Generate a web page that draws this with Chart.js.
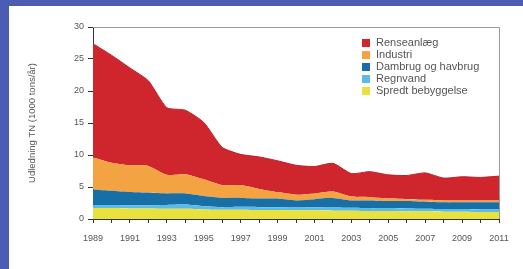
<!DOCTYPE html>
<html>
<head>
<meta charset="utf-8">
<script src="https://cdn.jsdelivr.net/npm/chart.js@4.4.1/dist/chart.umd.min.js"></script>
<style>
  html, body { margin: 0; padding: 0; }
  body { width: 523px; height: 269px; background: #4b5cb2; overflow: hidden; position: relative; }
  #panel { position: absolute; left: 9px; top: 6px; width: 514px; height: 263px; background: #fff; }
  canvas { display: block; }
</style>
</head>
<body>
<div id="panel"><canvas id="chart" width="514" height="263"></canvas></div>
<script>
const years = ['1989', '1990', '1991', '1992', '1993', '1994', '1995', '1996', '1997', '1998', '1999',
  '2000', '2001', '2002', '2003', '2004', '2005', '2006', '2007', '2008', '2009', '2010', '2011'];

// 1000 tons/år, stacked from the bottom up
const spredt = [1.7, 1.7, 1.65, 1.65, 1.6, 1.6, 1.5, 1.45, 1.45, 1.4, 1.4, 1.35, 1.35, 1.3, 1.3, 1.25, 1.25, 1.2, 1.2, 1.15, 1.15, 1.1, 1.1];
const regnvand = [0.5, 0.5, 0.5, 0.5, 0.6, 0.65, 0.5, 0.4, 0.45, 0.45, 0.45, 0.45, 0.5, 0.5, 0.45, 0.45, 0.45, 0.45, 0.4, 0.4, 0.4, 0.4, 0.4];
const dambrug = [2.4, 2.2, 2.05, 1.95, 1.8, 1.75, 1.6, 1.45, 1.4, 1.35, 1.35, 1.1, 1.25, 1.5, 1.15, 1.2, 1.1, 1.15, 1.1, 1.05, 1.05, 1.1, 1.1];
const industri = [5.0, 4.4, 4.2, 4.2, 2.9, 3.0, 2.6, 2.0, 2.0, 1.5, 1.0, 0.9, 0.9, 1.0, 0.6, 0.5, 0.4, 0.3, 0.3, 0.3, 0.3, 0.3, 0.3];
const renseanlaeg = [17.8, 16.8, 15.2, 13.3, 10.5, 10.0, 8.9, 5.9, 4.8, 5.0, 4.9, 4.6, 4.2, 4.4, 3.6, 4.0, 3.7, 3.7, 4.2, 3.5, 3.7, 3.6, 3.8];

const yTicks = [0, 5, 10, 15, 20, 25, 30];

const series = [
  { label: 'Spredt bebyggelse', data: spredt, color: '#e9e23e' },
  { label: 'Regnvand', data: regnvand, color: '#5bbbe6' },
  { label: 'Dambrug og havbrug', data: dambrug, color: '#176fa6' },
  { label: 'Industri', data: industri, color: '#f4a342' },
  { label: 'Renseanlæg', data: renseanlaeg, color: '#cf262d' }
];

const font = '"Liberation Sans", Arial, sans-serif';

// grey frame on top/right + legend inside the plot
const frameAndLegend = {
  id: 'frameAndLegend',
  afterDraw(chart) {
    const { ctx, chartArea: a } = chart;
    ctx.save();
    ctx.strokeStyle = '#9a9a9a';
    ctx.lineWidth = 1;
    ctx.beginPath();
    ctx.moveTo(a.left, a.top + 0.5);
    ctx.lineTo(a.right + 0.5, a.top + 0.5);
    ctx.lineTo(a.right + 0.5, a.bottom);
    ctx.stroke();

    const x = a.left + 269;
    let y = a.top + 16;
    ctx.font = '11px ' + font;
    ctx.textBaseline = 'middle';
    chart.data.datasets.slice().reverse().forEach(ds => {
      ctx.fillStyle = ds.backgroundColor;
      ctx.fillRect(x, y - 4, 8, 8);
      ctx.fillStyle = '#555';
      ctx.fillText(ds.label, x + 14, y);
      y += 12;
    });
    ctx.restore();
  }
};

new Chart(document.getElementById('chart'), {
  type: 'line',
  data: {
    labels: years,
    datasets: series.map((s, i) => ({
      label: s.label,
      data: s.data,
      backgroundColor: s.color,
      borderColor: i === series.length - 1 ? '#b8222a' : s.color,
      borderWidth: i === series.length - 1 ? 1 : 0,
      fill: i === 0 ? 'origin' : '-1',
      pointRadius: 0,
      tension: 0.2
    }))
  },
  options: {
    responsive: false,
    animation: false,
    layout: { padding: { top: 21, right: 24, left: 0, bottom: 0 } },
    plugins: {
      legend: { display: false },
      tooltip: { enabled: false }
    },
    scales: {
      x: {
        offset: false,
        z: 1,
        grid: { drawOnChartArea: false, tickLength: 4, color: '#333' },
        border: { color: '#333', width: 1 },
        ticks: {
          autoSkip: false,
          maxRotation: 0,
          padding: 10,
          color: '#555',
          font: { family: font, size: 9 },
          callback: (v, i) => (i % 2 === 0 ? years[i] : '')
        },
        afterFit: scale => { scale.height = 50; }
      },
      y: {
        stacked: true,
        min: 0,
        max: 30,
        z: 1,
        afterBuildTicks: scale => { scale.ticks = yTicks.map(v => ({ value: v })); },
        grid: { drawOnChartArea: false, tickLength: 5, color: '#333' },
        border: { color: '#333', width: 1 },
        ticks: { padding: 4, color: '#555', font: { family: font, size: 9 } },
        title: {
          display: true,
          text: 'Udledning TN (1000 tons/år)',
          color: '#555',
          font: { family: font, size: 9.5 },
          padding: { top: 18, bottom: 0 }
        },
        afterFit: scale => { scale.width = 84; }
      }
    }
  },
  plugins: [frameAndLegend]
});
</script>
</body>
</html>
